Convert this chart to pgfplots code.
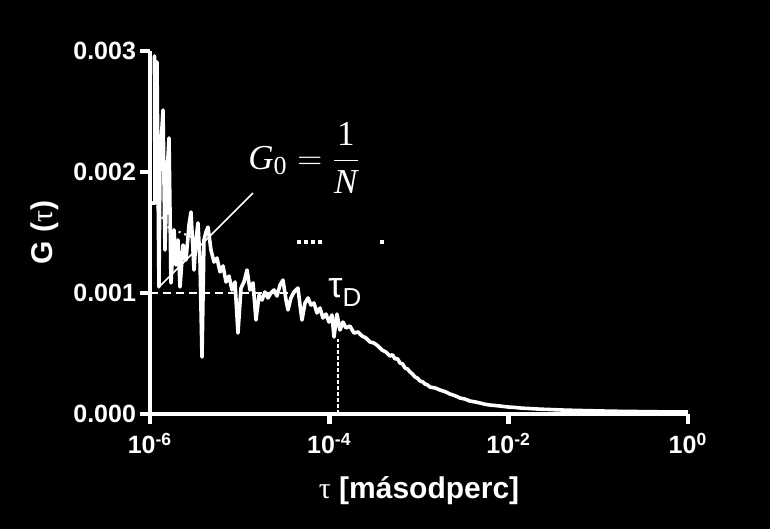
\documentclass[border=0pt]{standalone}
\usepackage{pgfplots}
\pgfplotsset{compat=1.18}
\usepackage{fontspec}
\setmainfont{Liberation Sans}
\newfontfamily\tnr{Liberation Serif}
\begin{document}
\begin{tikzpicture}
\fill[black] (-75pt,-57.5pt) rectangle (310pt,207pt);
\begin{axis}[
  at={(0,0)}, anchor=south west,
  scale only axis, width=269pt, height=181.5pt,
  xmin=-6, xmax=0, ymin=0, ymax=0.003,
  axis lines*=left,
  axis line style={white, line width=2.2pt},
  xtick={-6,-4,-2,0},
  xticklabels={10\textsuperscript{-6},10\textsuperscript{-4},10\textsuperscript{-2},10\textsuperscript{0}},
  ytick={0,0.001,0.002,0.003},
  yticklabels={0.000,0.001,0.002,0.003},
  scaled y ticks=false,
  tick style={white, line width=2.2pt},
  major tick length=5pt,
  tick align=outside,
  minor tick num=0,
  ticklabel style={white, font=\bfseries\fontsize{12.5}{14}\selectfont},
  yticklabel style={xshift=1.5pt},
  xticklabel style={yshift=-1pt},
  xlabel={{\tnr\mdseries τ} [másodperc]},
  ylabel={G ({\tnr\mdseries τ})},
  label style={white, font=\bfseries\fontsize{15}{18}\selectfont},
  xlabel style={at={([yshift=-42pt]axis description cs:0.5,0)}, anchor=base},
  ylabel style={at={([xshift=-52.5pt]axis description cs:0,0.5)}, anchor=center},
  clip=false,
]
% dashed guide lines
\addplot[white, line width=1.4pt, dash pattern=on 4pt off 2.5pt] coordinates {(-6,0.001) (-4.38,0.001)};
\addplot[white, line width=1.3pt, dash pattern=on 2pt off 1pt] coordinates {(-3.903,0) (-3.903,0.00062)};
% dotted fragment
\addplot[white, line width=1pt, dotted] coordinates {(-5.92,1.72e-3) (-5.82,1.55e-3) (-5.66,1.50e-3) (-5.50,1.45e-3)};
% stray dots
\addplot[only marks, mark=square*, mark size=0.8pt, white] coordinates {(-4.338,1.421e-3) (-4.260,1.421e-3) (-4.182,1.421e-3) (-4.104,1.421e-3) (-3.413,1.421e-3)};
% data
\addplot[white, line width=1.8pt, line join=round] coordinates {
(-6.000,1.744e-3) (-5.944,1.744e-3) (-5.950,2.960e-3) (-5.933,1.934e-3) (-5.922,2.909e-3)
(-5.900,1.050e-3) (-5.888,2.099e-3) (-5.855,2.512e-3) (-5.833,1.355e-3) (-5.810,1.975e-3)
(-5.788,2.281e-3) (-5.766,1.083e-3) (-5.732,1.521e-3) (-5.710,1.231e-3) (-5.688,1.438e-3)
(-5.665,1.050e-3) (-5.632,1.397e-3) (-5.599,1.273e-3) (-5.565,1.562e-3) (-5.543,1.669e-3)
(-5.509,1.190e-3) (-5.487,1.438e-3) (-5.465,1.579e-3) (-5.442,1.256e-3) (-5.420,0.471e-3)
(-5.398,1.438e-3) (-5.376,1.504e-3) (-5.353,1.545e-3) (-5.320,1.355e-3) (-5.286,1.256e-3)
(-5.253,1.289e-3) (-5.219,1.174e-3) (-5.186,1.223e-3) (-5.152,1.091e-3) (-5.119,1.140e-3)
(-5.086,1.025e-3) (-5.052,1.091e-3) (-5.019,0.669e-3) (-4.985,1.041e-3) (-4.952,1.091e-3)
(-4.918,1.190e-3) (-4.885,1.025e-3) (-4.851,1.083e-3) (-4.818,0.777e-3) (-4.784,0.983e-3)
(-4.751,0.942e-3) (-4.718,1.008e-3) (-4.684,0.959e-3) (-4.651,1.000e-3) (-4.617,1.025e-3)
(-4.584,0.975e-3) (-4.550,1.066e-3) (-4.517,1.107e-3) (-4.483,0.942e-3) (-4.461,0.860e-3)
(-4.428,0.959e-3) (-4.394,1.008e-3) (-4.350,1.041e-3) (-4.327,0.901e-3) (-4.305,0.777e-3)
(-4.271,0.917e-3) (-4.238,0.959e-3) (-4.205,0.901e-3) (-4.171,0.917e-3) (-4.138,0.835e-3)
(-4.104,0.876e-3) (-4.071,0.793e-3) (-4.037,0.826e-3) (-4.004,0.760e-3) (-3.970,0.818e-3)
(-3.948,0.636e-3) (-3.915,0.826e-3) (-3.881,0.694e-3) (-3.848,0.760e-3) (-3.814,0.711e-3)
(-3.770,0.727e-3) (-3.725,0.669e-3) (-3.680,0.678e-3) (-3.636,0.645e-3) (-3.591,0.628e-3)
(-3.547,0.595e-3) (-3.502,0.587e-3) (-3.457,0.562e-3) (-3.413,0.529e-3) (-3.368,0.512e-3)
(-3.324,0.479e-3) (-3.296,0.490e-3) (-3.268,0.455e-3) (-3.240,0.458e-3) (-3.212,0.421e-3)
(-3.184,0.415e-3) (-3.156,0.380e-3) (-3.128,0.372e-3) (-3.100,0.347e-3) (-3.072,0.330e-3)
(-3.045,0.306e-3) (-3.017,0.296e-3) (-2.989,0.273e-3) (-2.960,0.266e-3) (-2.933,0.248e-3)
(-2.905,0.240e-3) (-2.877,0.223e-3) (-2.820,0.215e-3) (-2.766,0.198e-3) (-2.710,0.185e-3)
(-2.654,0.165e-3) (-2.600,0.152e-3) (-2.543,0.132e-3) (-2.490,0.124e-3) (-2.431,0.107e-3)
(-2.375,0.100e-3) (-2.320,0.091e-3) (-2.260,0.080e-3) (-2.208,0.074e-3) (-2.150,0.070e-3)
(-2.097,0.066e-3) (-2.010,0.058e-3) (-1.930,0.054e-3) (-1.850,0.048e-3) (-1.762,0.045e-3)
(-1.650,0.040e-3) (-1.539,0.037e-3) (-1.370,0.032e-3) (-1.205,0.029e-3) (-0.980,0.025e-3)
(-0.759,0.022e-3) (-0.540,0.020e-3) (-0.312,0.018e-3) (0.000,0.017e-3)
};
% annotation line
\addplot[white, line width=0.8pt] coordinates {(-5.900,1.05e-3) (-4.851,1.826e-3)};
\node[anchor=west, white, inner sep=0pt, font=\tnr\fontsize{17.5}{21}\selectfont]
  at (axis cs:-4.907,2.116e-3)
  {$\displaystyle \mbox{\itshape G}_{\mbox{\fontsize{13}{13}\selectfont 0}} = \frac{\mbox{1}}{\mbox{\itshape N}}$};
\node[anchor=base west, white, inner sep=0pt]
  at (axis cs:-4.015,0.959e-3) {\fontsize{18}{20}\selectfont τ\raisebox{-4.5pt}{\fontsize{13}{15}\selectfont D}};
\end{axis}
\pgfresetboundingbox
\useasboundingbox (-75pt,-57.5pt) rectangle (310pt,207pt);
\end{tikzpicture}
\end{document}
